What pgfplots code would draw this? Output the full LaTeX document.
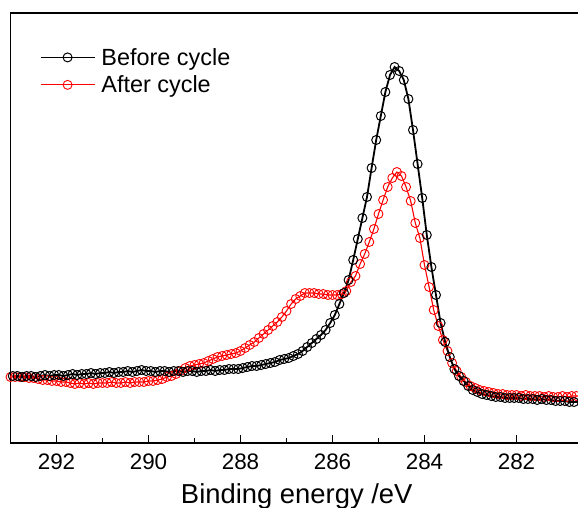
\documentclass[border=0pt]{standalone}
\usepackage{pgfplots}
\pgfplotsset{compat=1.18}
\usepackage{pgfplotstable}
\usepackage{fontspec}
\setmainfont{Liberation Sans}

\pgfplotstableread{
E v
292.95 67
292.85 67
292.75 66
292.65 67
292.55 67
292.45 66
292.35 67
292.25 68
292.15 67
292.05 68
291.95 68
291.85 67
291.75 68
291.65 69
291.55 68
291.45 69
291.35 69
291.25 70
291.15 69
291.05 70
290.95 70
290.85 71
290.75 70
290.65 71
290.55 71
290.45 72
290.35 71
290.25 72
290.15 73
290.05 72
289.95 72
289.85 71
289.75 72
289.65 72
289.55 71
289.45 72
289.35 72
289.25 71
289.15 72
289.05 72
288.95 71
288.85 72
288.75 72
288.65 73
288.55 72
288.45 73
288.35 73
288.25 74
288.15 74
288.05 74
287.95 75
287.85 76
287.75 77
287.65 77
287.55 78
287.45 79
287.35 80
287.25 81
287.15 83
287.05 84
286.95 85
286.85 87
286.75 89
286.65 92
286.55 96
286.45 100
286.35 104
286.25 108
286.15 113
286.05 120
285.95 128
285.85 139
285.75 150
285.65 163
285.55 183
285.45 204
285.35 225
285.25 246
285.15 275
285.05 303
284.95 327
284.85 351
284.75 368
284.65 376
284.55 372
284.45 363
284.35 344
284.25 313
284.15 279
284.05 245
283.95 208
283.85 176
283.75 148
283.65 120
283.55 101
283.45 86
283.35 74
283.25 67
283.15 62
283.05 57
282.95 53
282.85 51
282.75 49
282.65 48
282.55 47
282.45 46
282.35 46
282.25 45
282.15 45
282.05 45
281.95 45
281.85 44
281.75 44
281.65 44
281.55 43
281.45 44
281.35 43
281.25 43
281.15 42
281.05 42
280.95 42
280.85 41
280.75 41
280.65 41
}\tblbefore

\pgfplotstableread{
E v
293.0 66
292.9 66
292.8 66
292.7 66
292.6 65
292.5 65
292.4 64
292.3 63
292.2 63
292.1 62
292.0 62
291.9 61
291.8 61
291.7 60
291.6 59
291.5 60
291.4 59
291.3 60
291.2 59
291.1 60
291.0 60
290.9 60
290.8 61
290.7 60
290.6 60
290.5 61
290.4 60
290.3 61
290.2 61
290.1 61
290.0 62
289.9 62
289.8 63
289.7 64
289.6 66
289.5 67
289.4 69
289.3 72
289.2 75
289.1 77
289.0 78
288.9 79
288.8 80
288.7 82
288.6 84
288.5 86
288.4 87
288.3 88
288.2 89
288.1 90
288.0 92
287.9 95
287.8 98
287.7 101
287.6 105
287.5 109
287.4 113
287.3 117
287.2 121
287.1 126
287.0 132
286.9 139
286.8 144
286.7 147
286.6 150
286.5 150
286.4 150
286.3 149
286.2 149
286.1 148
286.0 148
285.9 148
285.8 149
285.7 152
285.6 161
285.5 167
285.4 179
285.3 189
285.2 201
285.1 214
285.0 229
284.9 243
284.8 256
284.7 265
284.6 271
284.5 267
284.4 256
284.3 242
284.2 220
284.1 205
284.0 178
283.9 156
283.8 133
283.7 117
283.6 103
283.5 92
283.4 80
283.3 72
283.2 66
283.1 61
283.0 57
282.9 55
282.8 53
282.7 52
282.6 51
282.5 50
282.4 49
282.3 49
282.2 48
282.1 48
282.0 48
281.9 47
281.8 48
281.7 47
281.6 47
281.5 47
281.4 46
281.3 47
281.2 46
281.1 46
281.0 47
280.9 46
280.8 47
280.7 47
280.6 47
}\tblafter

\begin{document}
\begin{tikzpicture}
\useasboundingbox (0,0) rectangle (578bp,508bp);
\begin{axis}[
  at={(10.5bp,65bp)}, anchor=south west,
  scale only axis,
  width=567.5bp, height=430bp,
  x dir=reverse,
  xmin=280.663, xmax=293,
  ymin=0, ymax=430,
  axis x line*=bottom,
  axis y line*=left,
  xtick={282,284,...,292},
  minor x tick num=1,
  ytick=\empty,
  tick align=inside,
  major tick length=8bp,
  minor tick length=4.5bp,
  tick style={black, line width=1.3bp},
  axis line style={line width=1.8bp, black, -},
  /pgf/number format/assume math mode=true,
  /pgf/number format/1000 sep={},
  xticklabel style={font=\fontsize{22.5}{26}\selectfont, yshift=-7bp},
  xlabel={Binding energy /eV},
  xlabel style={font=\fontsize{27.5}{32}\selectfont, yshift=-7bp, xshift=2.5bp},
  legend style={at={(rel axis cs:0,1)}, anchor=north west, xshift=27bp, yshift=-31bp,
    draw=none, font=\fontsize{23.5}{28}\selectfont, row sep=5bp,
    column sep=4bp, inner sep=2bp},
  legend cell align=left,
  legend image code/.code={\draw[mark repeat=2,mark phase=2,#1] plot coordinates {(0bp,0bp) (27bp,0bp) (54bp,0bp)};},
]
\addlegendimage{black, line width=1.8bp, mark=o, mark size=4.5bp, mark options={fill=white, line width=1bp}}
\addlegendentry{Before cycle}
\addlegendimage{red, line width=1.1bp, mark=o, mark size=4.5bp, mark options={fill=white, line width=0.9bp}}
\addlegendentry{After cycle}
\addplot[forget plot, red, line width=1.1bp, mark=o, mark size=4.5bp, mark options={fill=white, line width=0.9bp}] table[x=E,y=v] {\tblafter};
\addplot[forget plot, black, line width=1.8bp, mark=o, mark size=4.5bp, mark options={fill=white, line width=1bp}] table[x=E,y=v] {\tblbefore};
\end{axis}
\begin{axis}[
  at={(10.5bp,65bp)}, anchor=south west,
  scale only axis,
  width=567.5bp, height=430bp,
  xmin=0, xmax=1, ymin=0, ymax=1,
  axis x line*=top,
  axis y line=none,
  xtick=\empty, ytick=\empty,
  axis line style={line width=1.8bp, black, -},
]
\end{axis}
\draw[black, line width=1.8bp] (9.6bp,495bp) -- (580bp,495bp);
\end{tikzpicture}
\end{document}
